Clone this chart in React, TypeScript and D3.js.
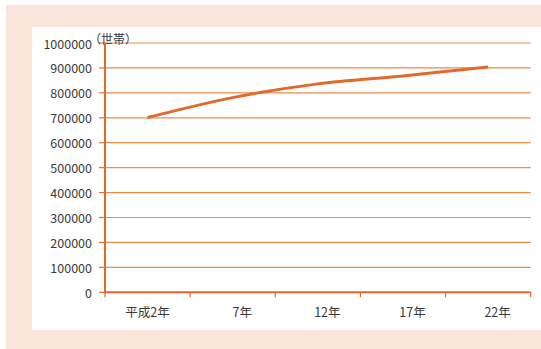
import React from "react";
import * as d3 from "d3";

const categories = ["平成2年", "7年", "12年", "17年", "22年"];
const households = [701000, 781000, 836000, 868000, 904000];
const yTicks = [0, 100000, 200000, 300000, 400000, 500000, 600000, 700000, 800000, 900000, 1000000];
const unitLabel = "（世帯）";

const W = 541;
const H = 349;
const FONT = "'Noto Sans CJK JP', 'Noto Sans', sans-serif";

export default function App() {
  const left = 105;
  const right = 530.7;
  const top = 43;
  const bottom = 292.3;

  const x = d3.scaleBand<string>().domain(categories).range([left, right]).padding(0);
  const y = d3.scaleLinear().domain([0, 1000000]).range([bottom, top]);
  const cx = (c: string) => (x(c) as number) + x.bandwidth() / 2;

  const line = d3
    .line<number>()
    .x((_, i) => cx(categories[i]))
    .y((d) => y(d))
    .curve(d3.curveCatmullRom.alpha(0.5));

  const tickXs = [...categories.map((c) => x(c) as number), right];

  return (
    <svg
      width={W}
      height={H}
      style={{ position: "fixed", left: 0, top: 0, display: "block" }}
    >
      <rect x={0} y={0} width={W} height={H} fill="#ffffff" />
      <rect x={6} y={5} width={W - 6} height={H - 5} fill="#F9E5D9" />
      <rect x={32} y={27} width={W - 32} height={303} fill="#ffffff" />

      {/* horizontal gridlines */}
      {yTicks
        .filter((t) => t > 0)
        .map((t) => (
          <line
            key={t}
            x1={left}
            x2={right}
            y1={y(t)}
            y2={y(t)}
            stroke="#EC8A48"
            strokeWidth={1.2}
          />
        ))}

      {/* y-axis ticks and labels */}
      {yTicks.map((t) => (
        <g key={"yt" + t}>
          <line x1={left - 6} x2={left} y1={y(t)} y2={y(t)} stroke="#E2702C" strokeWidth={1.2} />
          <text
            x={92}
            y={y(t)}
            textAnchor="end"
            dominantBaseline="central"
            fontFamily={FONT}
            fontSize={12.5}
            fill="#3a3a3a"
          >
            {t}
          </text>
        </g>
      ))}

      <text
        x={89}
        y={38}
        dominantBaseline="central"
        fontFamily={FONT}
        fontSize={12}
        fill="#3a3a3a"
      >
        {unitLabel}
      </text>

      {/* axes */}
      <line x1={left} x2={left} y1={top} y2={bottom + 1} stroke="#E0692A" strokeWidth={2} />
      <line x1={left - 1} x2={right} y1={bottom} y2={bottom} stroke="#E0692A" strokeWidth={2} />

      {/* x-axis ticks */}
      {tickXs.map((tx, i) => (
        <line key={"xt" + i} x1={tx} x2={tx} y1={bottom} y2={bottom + 5} stroke="#E0692A" strokeWidth={1.2} />
      ))}

      {/* x-axis labels; the short year labels sit slightly right of their band centre */}
      {categories.map((c, i) => (
        <text
          key={c}
          x={cx(c) + (i === 0 ? 0 : 9.5)}
          y={311}
          textAnchor="middle"
          dominantBaseline="central"
          fontFamily={FONT}
          fontSize={12.5}
          fill="#3a3a3a"
        >
          {c}
        </text>
      ))}

      {/* household series */}
      <path
        d={line(households) ?? ""}
        fill="none"
        stroke="#E06A2A"
        strokeWidth={3}
        strokeLinecap="butt"
      />
    </svg>
  );
}
